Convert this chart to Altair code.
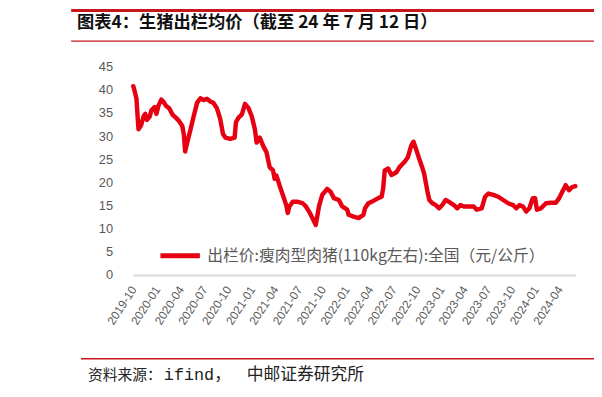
import altair as alt
import pandas as pd

# ---- data ----
dates = [
    "2019-10-01", "2019-10-05", "2019-10-13", "2019-10-21", "2019-10-31", "2019-11-10",
    "2019-11-16", "2019-11-23", "2019-12-03", "2019-12-10", "2019-12-22", "2019-12-29",
    "2020-01-06", "2020-01-17", "2020-01-27", "2020-02-05", "2020-02-17", "2020-03-01",
    "2020-03-13", "2020-03-25", "2020-04-07", "2020-04-13", "2020-04-18", "2020-04-26",
    "2020-05-09", "2020-05-21", "2020-06-03", "2020-06-16", "2020-06-28", "2020-07-11",
    "2020-07-24", "2020-08-05", "2020-08-18", "2020-08-31", "2020-09-11", "2020-09-20",
    "2020-10-09", "2020-10-26", "2020-10-31", "2020-11-10", "2020-11-23", "2020-12-05",
    "2020-12-18", "2020-12-31", "2021-01-12", "2021-01-19", "2021-01-31", "2021-02-13",
    "2021-02-26", "2021-03-10", "2021-03-23", "2021-03-29", "2021-04-05", "2021-04-17",
    "2021-04-30", "2021-05-13", "2021-05-19", "2021-05-25", "2021-06-07", "2021-06-26",
    "2021-07-15", "2021-07-28", "2021-08-09", "2021-08-22", "2021-09-04", "2021-09-17",
    "2021-09-29", "2021-10-18", "2021-10-31", "2021-11-13", "2021-12-02", "2021-12-15",
    "2022-01-03", "2022-01-09", "2022-01-28", "2022-02-16", "2022-03-07", "2022-03-13",
    "2022-03-26", "2022-04-14", "2022-05-03", "2022-05-16", "2022-05-22", "2022-05-28",
    "2022-06-10", "2022-06-23", "2022-07-12", "2022-07-24", "2022-08-12", "2022-08-25",
    "2022-09-07", "2022-09-16", "2022-09-26", "2022-10-08", "2022-10-21", "2022-10-27",
    "2022-11-03", "2022-11-09", "2022-11-16", "2022-11-28", "2022-12-11", "2022-12-24",
    "2023-01-05", "2023-01-18", "2023-01-31", "2023-02-19", "2023-03-03", "2023-03-16",
    "2023-03-29", "2023-04-17", "2023-05-06", "2023-05-18", "2023-06-06", "2023-06-19",
    "2023-07-02", "2023-07-21", "2023-08-09", "2023-08-28", "2023-09-16", "2023-10-05",
    "2023-10-17", "2023-10-30", "2023-11-12", "2023-11-25", "2023-12-07", "2023-12-20",
    "2023-12-29", "2024-01-05", "2024-01-21", "2024-02-09", "2024-02-28", "2024-03-18",
    "2024-03-31", "2024-04-12", "2024-04-25", "2024-05-08", "2024-05-20", "2024-06-01",
]
prices = [
    40.8, 40.0, 38.2, 31.5, 32.3, 34.3,
    34.8, 33.5, 34.2, 35.6, 36.3, 34.8,
    36.6, 37.9, 37.3, 36.5, 36.0, 34.6,
    34.0, 33.3, 32.2, 30.4, 26.7, 28.6,
    31.5, 34.3, 37.2, 38.2, 37.8, 38.1,
    37.5, 37.2, 36.1, 33.8, 30.5, 29.7,
    29.4, 29.7, 33.0, 34.0, 34.7, 37.0,
    36.1, 34.3, 31.5, 28.6, 29.7, 27.9,
    26.5, 23.3, 22.6, 20.8, 21.5, 19.4,
    17.3, 15.1, 13.4, 14.8, 15.8, 15.8,
    15.5, 14.8, 13.7, 12.3, 10.8, 15.0,
    17.3, 18.6, 18.0, 16.6, 16.2, 14.8,
    14.1, 13.0, 12.6, 12.3, 13.0, 14.4,
    15.5, 16.0, 16.6, 16.9, 18.7, 22.6,
    23.0, 21.6, 22.2, 23.3, 24.4, 25.4,
    27.9, 28.8, 27.2, 25.1, 23.0, 21.9,
    19.8, 18.0, 16.2, 15.5, 15.1, 14.4,
    15.1, 16.2, 15.8, 15.1, 14.4, 15.1,
    14.8, 14.8, 14.8, 14.1, 14.4, 16.9,
    17.6, 17.3, 16.9, 16.2, 15.5, 15.1,
    14.4, 15.1, 14.8, 13.7, 14.4, 16.6,
    16.6, 14.1, 14.4, 15.5, 15.6, 15.6,
    16.6, 18.0, 19.4, 18.3, 19.0, 19.2,
]
series_name = "出栏价:瘦肉型肉猪(110kg左右):全国（元/公斤）"
tick_months = [
    (2019, 10), (2020, 1), (2020, 4), (2020, 7), (2020, 10), (2021, 1), (2021, 4),
    (2021, 7), (2021, 10), (2022, 1), (2022, 4), (2022, 7), (2022, 10), (2023, 1),
    (2023, 4), (2023, 7), (2023, 10), (2024, 1), (2024, 4),
]
y_ticks = [0, 5, 10, 15, 20, 25, 30, 35, 40, 45]
title_text = "图表4：生猪出栏均价（截至 24 年 7 月 12 日）"
source_parts = ["资料来源：", "ifind，", "中邮证券研究所"]

RED = "#E60012"
DARK_RED = "#C8161D"
GREY = "#595959"

df = pd.DataFrame({"date": dates, "price": prices, "series": series_name})

line = alt.Chart(df).mark_line(strokeWidth=4.5, strokeJoin="round", strokeCap="round").encode(
    x=alt.X(
        "date:T",
        title=None,
        scale=alt.Scale(
            domain=[alt.DateTime(year=2019, month=10, date=1), alt.DateTime(year=2024, month=6, date=1)]
        ),
        axis=alt.Axis(
            values=[alt.DateTime(year=y, month=m, date=1) for y, m in tick_months],
            format="%Y-%m",
            labelAngle=-57,
            labelAlign="right",
            labelBaseline="middle",
            labelPadding=12,
            labelFont="Liberation Sans",
            labelFontSize=12,
            labelColor=GREY,
            ticks=False,
            domainColor="#D9D9D9",
            domainWidth=2,
            grid=False,
            labelOverlap=False,
            labelBound=False,
            labelFlush=False,
        ),
    ),
    y=alt.Y(
        "price:Q",
        title=None,
        scale=alt.Scale(domain=[0, 45], nice=False),
        axis=alt.Axis(
            values=y_ticks,
            ticks=False,
            domain=False,
            grid=False,
            labelPadding=21,
            labelFont="Liberation Sans",
            labelFontSize=13,
            labelColor=GREY,
        ),
    ),
    color=alt.Color(
        "series:N",
        scale=alt.Scale(domain=[series_name], range=[RED]),
        legend=alt.Legend(
            title=None,
            orient="none",
            legendX=25,
            legendY=169,
            symbolType="stroke",
            symbolSize=1600,
            symbolStrokeWidth=5,
            labelFont="Noto Sans CJK SC",
            labelFontSize=16,
            labelColor=GREY,
            labelOffset=5,
            labelLimit=600,
        ),
    ),
)

one = pd.DataFrame({"k": [0]})

top_rule = alt.Chart(one).mark_rule(color=DARK_RED, strokeWidth=3).encode(
    x=alt.value(-63), x2=alt.value(467), y=alt.value(-57)
)
sub_rule = alt.Chart(one).mark_rule(color=DARK_RED, strokeWidth=1.5).encode(
    x=alt.value(-63), x2=alt.value(467), y=alt.value(-26)
)
foot_rule = alt.Chart(one).mark_rule(color=DARK_RED, strokeWidth=1.5).encode(
    x=alt.value(-53), x2=alt.value(467), y=alt.value(296)
)
title = alt.Chart(pd.DataFrame({"t": [title_text]})).mark_text(
    align="left", baseline="middle", font="Noto Sans CJK SC", fontSize=17.5, fontWeight="bold", color="#111111"
).encode(text="t:N", x=alt.value(-57), y=alt.value(-44))

src1 = alt.Chart(pd.DataFrame({"t": [source_parts[0]]})).mark_text(
    align="left", baseline="middle", font="Noto Sans CJK SC", fontSize=15, color="#222222"
).encode(text="t:N", x=alt.value(-46), y=alt.value(312))
src2 = alt.Chart(pd.DataFrame({"t": [source_parts[1]]})).mark_text(
    align="left", baseline="middle", font="Liberation Mono, Noto Sans CJK SC", fontSize=17, color="#222222"
).encode(text="t:N", x=alt.value(31), y=alt.value(312))
src3 = alt.Chart(pd.DataFrame({"t": [source_parts[2]]})).mark_text(
    align="left", baseline="middle", font="Noto Sans CJK SC", fontSize=17, color="#222222"
).encode(text="t:N", x=alt.value(115), y=alt.value(312))

chart = alt.layer(line, top_rule, sub_rule, foot_rule, title, src1, src2, src3).properties(
    width=448,
    height=211,
    autosize=alt.AutoSizeParams(type="none"),
    padding={"left": 127, "top": 57, "right": 19, "bottom": 109},
    background="white",
).configure_view(stroke=None)

chart.save("out.html", embed_options={"renderer": "svg", "actions": False})
